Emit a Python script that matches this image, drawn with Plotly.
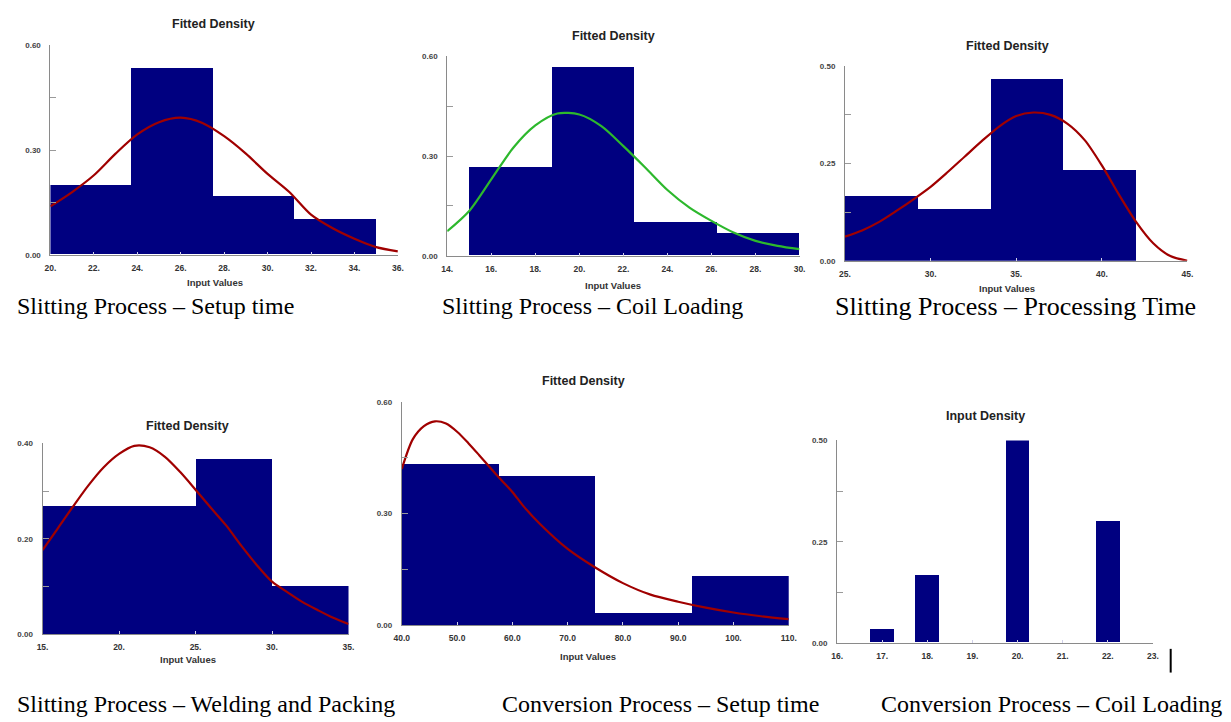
import plotly.graph_objects as go

W, H = 1231, 722

# ---------------- data ----------------
# Panel 1: Slitting Process - Setup time
p1_edges = [20.0, 23.75, 27.5, 31.25, 35.0]
p1_heights = [0.200, 0.533, 0.167, 0.100]
p1_curve_x = [20, 21, 22, 23, 24, 25, 26, 27, 28, 29, 30, 31, 32, 33, 34, 35, 36]
p1_curve_y = [0.139, 0.180, 0.228, 0.290, 0.345, 0.380, 0.393, 0.378, 0.340, 0.290,
              0.232, 0.180, 0.115, 0.076, 0.046, 0.022, 0.010]
p1_xticks = [20, 22, 24, 26, 28, 30, 32, 34, 36]
p1_xlabels = ["20.", "22.", "24.", "26.", "28.", "30.", "32.", "34.", "36."]

# Panel 2: Slitting Process - Coil Loading
p2_edges = [15.0, 18.75, 22.5, 26.25, 30.0]
p2_heights = [0.267, 0.567, 0.100, 0.067]
p2_curve_x = [14, 15, 16, 17, 18, 19, 20, 21, 22, 23, 24, 25, 26, 27, 28, 29, 30]
p2_curve_y = [0.074, 0.135, 0.230, 0.325, 0.392, 0.428, 0.425, 0.390, 0.330, 0.265,
              0.198, 0.145, 0.105, 0.070, 0.045, 0.030, 0.020]
p2_xticks = [14, 16, 18, 20, 22, 24, 26, 28, 30]
p2_xlabels = ["14.", "16.", "18.", "20.", "22.", "24.", "26.", "28.", "30."]

# Panel 3: Slitting Process - Processing Time
p3_edges = [25.0, 29.25, 33.5, 37.75, 42.0]
p3_heights = [0.167, 0.133, 0.467, 0.233]
p3_curve_x = [25, 26, 27, 28, 29, 30, 31, 32, 33, 34, 35, 36, 37, 38, 39, 40, 41, 42, 43, 44, 45]
p3_curve_y = [0.062, 0.078, 0.100, 0.128, 0.158, 0.190, 0.228, 0.268, 0.308, 0.345,
              0.372, 0.381, 0.375, 0.352, 0.310, 0.245, 0.170, 0.100, 0.045, 0.012, 0.0]
p3_xticks = [25, 30, 35, 40, 45]
p3_xlabels = ["25.", "30.", "35.", "40.", "45."]

# Panel 4: Slitting Process - Welding and Packing
p4_edges = [15.0, 20.0, 25.0, 30.0, 35.0]
p4_heights = [0.267, 0.267, 0.367, 0.100]
p4_curve_x = [15, 16, 17, 18, 19, 20, 21, 22, 23, 24, 25, 26, 27, 28, 29, 30, 31, 32, 33, 34, 35]
p4_curve_y = [0.176, 0.222, 0.268, 0.312, 0.350, 0.378, 0.395, 0.392, 0.372, 0.340,
              0.303, 0.265, 0.228, 0.185, 0.145, 0.110, 0.088, 0.067, 0.050, 0.034, 0.021]
p4_xticks = [15, 20, 25, 30, 35]
p4_xlabels = ["15.", "20.", "25.", "30.", "35."]

# Panel 5: Conversion Process - Setup time
p5_edges = [40.0, 57.5, 75.0, 92.5, 110.0]
p5_heights = [0.433, 0.400, 0.033, 0.133]
p5_curve_x = [40, 42, 44, 46, 48, 50, 52, 54, 56, 58, 60, 62, 65, 70, 75, 80, 85, 90, 95, 100, 105, 110]
p5_curve_y = [0.420, 0.500, 0.535, 0.548, 0.542, 0.520, 0.490, 0.457, 0.423, 0.390,
              0.358, 0.320, 0.272, 0.205, 0.155, 0.113, 0.082, 0.063, 0.047, 0.034, 0.024, 0.016]
p5_xticks = [40, 50, 60, 70, 80, 90, 100, 110]
p5_xlabels = ["40.0", "50.0", "60.0", "70.0", "80.0", "90.0", "100.", "110."]

# Panel 6: Conversion Process - Coil Loading (input density)
p6_values = [17, 18, 20, 22]
p6_heights = [0.033, 0.167, 0.500, 0.300]
p6_xticks = [16, 17, 18, 19, 20, 21, 22, 23]
p6_xlabels = ["16.", "17.", "18.", "19.", "20.", "21.", "22.", "23."]

captions = [
    "Slitting Process – Setup time",
    "Slitting Process – Coil Loading",
    "Slitting Process – Processing Time",
    "Slitting Process – Welding and Packing",
    "Conversion Process – Setup time",
    "Conversion Process – Coil Loading",
]
titles = ["Fitted Density", "Fitted Density", "Fitted Density",
          "Fitted Density", "Fitted Density", "Input Density"]

# ---------------- layout geometry (pixels) ----------------
# (x_left, x_right, y_top, y_bottom)
boxes = [
    (43, 395, 42, 254),
    (445, 802, 53, 255),
    (848, 1195, 63, 260),
    (35, 345, 445, 638),
    (399, 791, 403, 629),
    (840, 1160, 442, 647),
]
xranges = [[20, 36], [14, 30], [25, 45], [15, 35], [40, 110], [16, 23]]
ymax = [0.6, 0.6, 0.5, 0.4, 0.6, 0.5]
ydt = [0.3, 0.3, 0.25, 0.2, 0.3, 0.25]
title_pos = [(208, 20), (613, 32), (1013, 43), (182, 427), (583, 382), (990, 417)]
xlabel_pos = [(210, 282), (613, 285), (1012, 288), (182, 664), (588, 661), None]
caption_pos = [(7, 306), (438, 306), (836, 306), (7, 709), (498, 709), (882, 709)]
caption_size = [24, 24, 26, 24, 24, 24]

NAVY = "#000080"
RED = "#A00000"
GREEN = "#2DB82D"


def px(x):
    return x / W


def py(y):
    return 1 - y / H


fig = go.Figure()

hist = [(p1_edges, p1_heights), (p2_edges, p2_heights), (p3_edges, p3_heights),
        (p4_edges, p4_heights), (p5_edges, p5_heights)]
curves = [(p1_curve_x, p1_curve_y, RED), (p2_curve_x, p2_curve_y, GREEN),
          (p3_curve_x, p3_curve_y, RED), (p4_curve_x, p4_curve_y, RED),
          (p5_curve_x, p5_curve_y, RED)]
xt = [(p1_xticks, p1_xlabels), (p2_xticks, p2_xlabels), (p3_xticks, p3_xlabels),
      (p4_xticks, p4_xlabels), (p5_xticks, p5_xlabels), (p6_xticks, p6_xlabels)]

for i in range(6):
    ax = "" if i == 0 else str(i + 1)
    xref, yref = "x" + ax, "y" + ax
    if i < 5:
        edges, heights = hist[i]
        centers = [(edges[k] + edges[k + 1]) / 2 for k in range(len(heights))]
        widths = [edges[k + 1] - edges[k] for k in range(len(heights))]
        fig.add_trace(go.Bar(x=centers, y=heights, width=widths, marker_color=NAVY,
                             marker_line_width=0, xaxis=xref, yaxis=yref))
        cx, cy, col = curves[i]
        fig.add_trace(go.Scatter(x=cx, y=cy, mode="lines",
                                 line=dict(color=col, width=2.2, shape="spline", smoothing=0.8),
                                 xaxis=xref, yaxis=yref))
    else:
        fig.add_trace(go.Bar(x=p6_values, y=p6_heights, width=0.53, marker_color=NAVY,
                             marker_line_width=0, xaxis=xref, yaxis=yref))

    x0, x1, y0, y1 = boxes[i]
    ticks, labels = xt[i]
    fig.layout["xaxis" + ax] = dict(
        domain=[px(x0), px(x1)], range=xranges[i], anchor=yref,
        tickmode="array", tickvals=ticks, ticktext=labels,
        ticks="inside", ticklen=3, tickcolor="#cfcfe8",
        showline=True, linecolor="#8a8a8a", linewidth=1,
        showgrid=False, zeroline=False, fixedrange=True,
        tickfont=dict(family="Liberation Sans", size=8.5, color="#333333", weight="bold"),
        ticklabelstandoff=5,
    )
    fig.layout["yaxis" + ax] = dict(
        domain=[py(y1), py(y0)], range=[0, ymax[i]], anchor=xref,
        tickmode="linear", tick0=0, dtick=ydt[i], tickformat=".2f",
        ticks="inside", ticklen=6, tickcolor="#9a9a9a",
        minor=dict(ticks="inside", ticklen=6, tickcolor="#9a9a9a", dtick=ydt[i] / 2, tick0=0),
        showline=True, linecolor="#8a8a8a", linewidth=1,
        showgrid=False, zeroline=False, fixedrange=True,
        tickfont=dict(family="Liberation Sans", size=8, color="#444444", weight="bold"),
        ticklabelstandoff=7,
    )

    tx, ty = title_pos[i]
    fig.add_annotation(x=px(tx), y=py(ty), xref="paper", yref="paper", text=titles[i],
                       showarrow=False, xanchor="center", yanchor="middle",
                       font=dict(family="Liberation Sans", size=12.5, color="#222222", weight="bold"))
    if xlabel_pos[i] is not None:
        lx, ly = xlabel_pos[i]
        fig.add_annotation(x=px(lx), y=py(ly), xref="paper", yref="paper", text="Input Values",
                           showarrow=False, xanchor="center", yanchor="middle",
                           font=dict(family="Liberation Sans", size=9.5, color="#333333", weight="bold"))
    cxp, cyp = caption_pos[i]
    fig.add_annotation(x=px(cxp), y=py(cyp), xref="paper", yref="paper", text=captions[i],
                       showarrow=False, xanchor="left", yanchor="middle",
                       font=dict(family="Liberation Serif", size=caption_size[i], color="#000000"))

# small vertical cursor mark next to last panel
fig.add_shape(type="line", xref="paper", yref="paper", x0=px(1178), x1=px(1178),
              y0=py(677), y1=py(653), line=dict(color="#000000", width=2))

fig.update_layout(
    width=W, height=H, margin=dict(l=0, r=0, t=0, b=0),
    paper_bgcolor="white", plot_bgcolor="white", showlegend=False,
    bargap=0,
)

fig.write_html("out.html", config={"displayModeBar": False},
               post_script="document.body.style.margin='0px';")
